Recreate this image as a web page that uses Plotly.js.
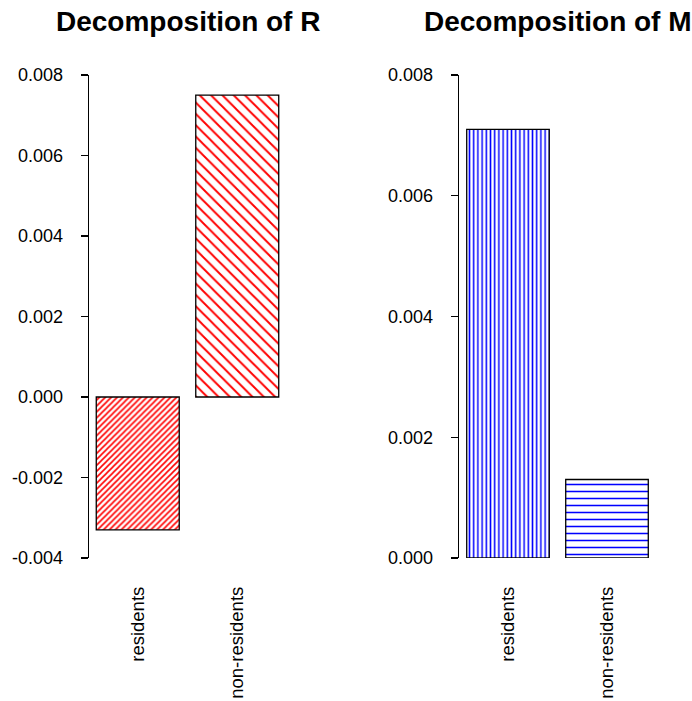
<!DOCTYPE html>
<html>
<head>
<meta charset="utf-8">
<script src="https://cdn.plot.ly/plotly-3.0.1.min.js"></script>
<style>
  html, body { margin: 0; padding: 0; background: #fff; }
  #chart { width: 692px; height: 701px; }
</style>
</head>
<body>
<div id="chart"></div>
<script>
// ---- data ----
const categories = ['residents', 'non-residents'];
const valuesR = [-0.0033, 0.0075];
const valuesM = [0.0071, 0.0013];
const titleR = 'Decomposition of R';
const titleM = 'Decomposition of M';
const yTickValsR = [-0.004, -0.002, 0.000, 0.002, 0.004, 0.006, 0.008];
const yTickTextR = ['-0.004', '-0.002', '0.000', '0.002', '0.004', '0.006', '0.008'];
const yTickValsM = [0.000, 0.002, 0.004, 0.006, 0.008];
const yTickTextM = ['0.000', '0.002', '0.004', '0.006', '0.008'];

// ---- layout helpers (pixel -> paper) ----
const W = 692, H = 701;
const px = v => v / W;
const py = v => 1 - v / H;
const FONT = 'Liberation Sans, Arial, Helvetica, sans-serif';

const traceR = {
  type: 'bar',
  x: categories,
  y: valuesR,
  xaxis: 'x',
  yaxis: 'y',
  marker: {
    color: 'white',
    line: { color: 'black', width: 1.3 },
    pattern: {
      shape: ['/', '\\'],
      fgcolor: 'red',
      bgcolor: 'white',
      size: [4.2, 8],
      solidity: [0.38, 0.24],
      fillmode: 'replace'
    }
  },
  hoverinfo: 'x+y'
};

const traceM = {
  type: 'bar',
  x: categories,
  y: valuesM,
  xaxis: 'x2',
  yaxis: 'y2',
  marker: {
    color: 'white',
    line: { color: 'black', width: 1.3 },
    pattern: {
      shape: ['|', '-'],
      fgcolor: 'blue',
      bgcolor: 'white',
      size: [4.2, 7],
      solidity: [0.36, 0.22],
      fillmode: 'replace'
    }
  },
  hoverinfo: 'x+y'
};

const xCommon = {
  type: 'category',
  showline: false,
  showgrid: false,
  zeroline: false,
  ticks: '',
  tickangle: -90,
  ticklabelstandoff: 24,
  tickfont: { family: FONT, size: 18.5, color: 'black' },
  fixedrange: true
};
const yCommon = {
  showline: true,
  linecolor: 'black',
  linewidth: 1.3,
  showgrid: false,
  zeroline: false,
  ticks: 'outside',
  ticklen: 7,
  tickcolor: 'black',
  tickwidth: 1.3,
  ticklabelstandoff: 14,
  tickfont: { family: FONT, size: 18, color: 'black' },
  fixedrange: true
};

const layout = {
  width: W,
  height: H,
  margin: { l: 0, r: 0, t: 0, b: 0 },
  paper_bgcolor: 'white',
  plot_bgcolor: 'white',
  showlegend: false,
  bargap: 0.166,
  xaxis: Object.assign({}, xCommon, {
    domain: [px(89), px(286)],
    range: [-0.49, 1.49],
    anchor: 'y'
  }),
  yaxis: Object.assign({}, yCommon, {
    domain: [py(558), py(75)],
    range: [-0.004, 0.008],
    tickvals: yTickValsR,
    ticktext: yTickTextR,
    anchor: 'x'
  }),
  xaxis2: Object.assign({}, xCommon, {
    domain: [px(459), px(656)],
    range: [-0.495, 1.495],
    anchor: 'y2'
  }),
  yaxis2: Object.assign({}, yCommon, {
    domain: [py(558), py(75)],
    range: [0, 0.008],
    tickvals: yTickValsM,
    ticktext: yTickTextM,
    anchor: 'x2'
  }),
  annotations: [
    {
      text: '<b>' + titleR + '</b>',
      xref: 'paper', yref: 'paper',
      x: px(187.5), y: py(22),
      xanchor: 'center', yanchor: 'middle',
      showarrow: false,
      font: { family: FONT, size: 28, color: 'black' }
    },
    {
      text: '<b>' + titleM + '</b>',
      xref: 'paper', yref: 'paper',
      x: px(557.5), y: py(22),
      xanchor: 'center', yanchor: 'middle',
      showarrow: false,
      font: { family: FONT, size: 28, color: 'black' }
    }
  ]
};

Plotly.newPlot('chart', [traceR, traceM], layout, { displayModeBar: false, staticPlot: true });
</script>
</body>
</html>
